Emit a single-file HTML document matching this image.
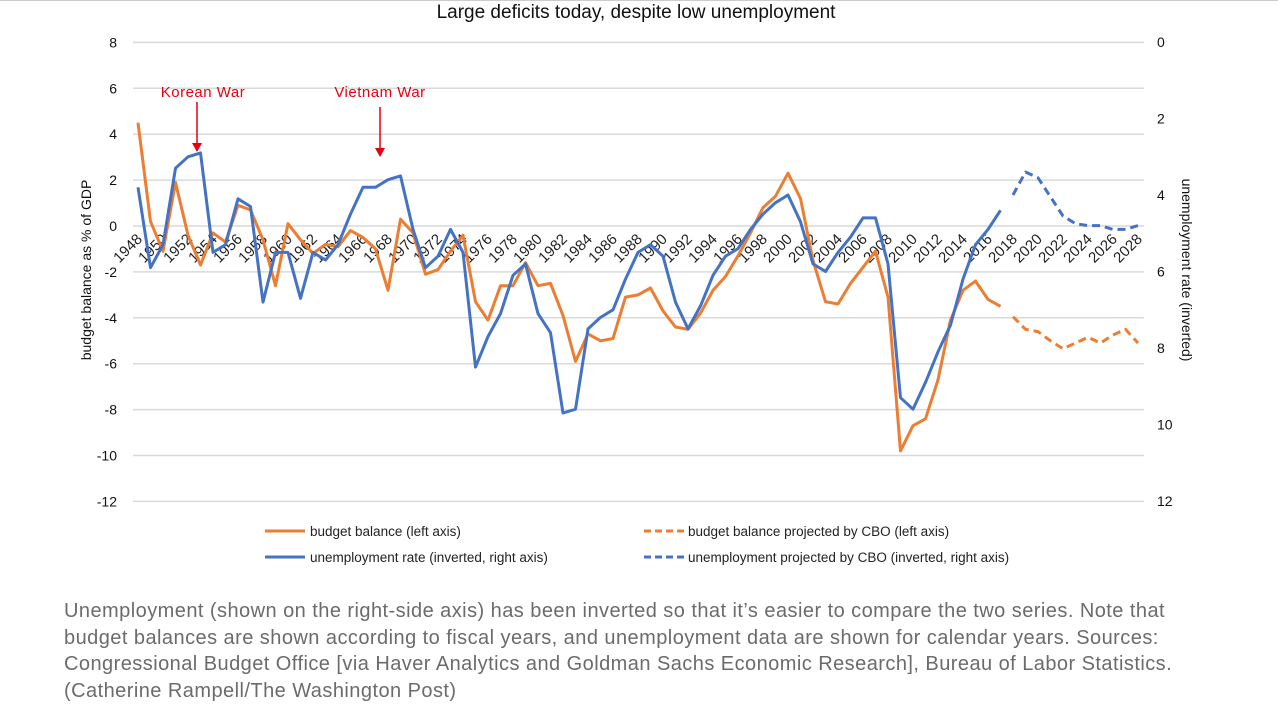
<!DOCTYPE html>
<html><head><meta charset="utf-8"><style>
body{margin:0;background:#fff;width:1278px;height:711px;overflow:hidden;font-family:"Liberation Sans",sans-serif}
#cap{position:absolute;left:64px;top:598px;width:1150px;font-size:20px;letter-spacing:0.45px;line-height:26.5px;color:#6b6b6b}
</style></head><body>
<svg id="chart" width="1278" height="600" style="position:absolute;left:0;top:0" font-family="Liberation Sans, sans-serif">
<line x1="0" y1="0.5" x2="1278" y2="0.5" stroke="#ccc"/>
<text x="636" y="18" text-anchor="middle" font-size="19" fill="#111">Large deficits today, despite low unemployment</text>
<g id="grid"></g><g id="lab"></g><g id="series"></g>
<text transform="translate(91,270) rotate(-90)" text-anchor="middle" font-size="14" fill="#111">budget balance as % of GDP</text>
<text transform="translate(1182,270) rotate(90)" text-anchor="middle" font-size="14" fill="#111">unemployment rate (inverted)</text>
<text x="203" y="97" text-anchor="middle" font-size="15" letter-spacing="0.5" fill="#e8000f">Korean War</text>
<g><line x1="197" y1="102" x2="197" y2="145" stroke="#e8000f" stroke-width="1.5"/><path d="M192 143 L202 143 L197 152 Z" fill="#e8000f"/></g>
<text x="380" y="97" text-anchor="middle" font-size="15" letter-spacing="0.5" fill="#e8000f">Vietnam War</text>
<g><line x1="380" y1="107" x2="380" y2="150" stroke="#e8000f" stroke-width="1.5"/><path d="M375 148 L385 148 L380 157 Z" fill="#e8000f"/></g>
<g font-size="13.5" fill="#222">
<line x1="265" y1="531" x2="305" y2="531" stroke="#ED7D31" stroke-width="3"/>
<text x="310" y="536">budget balance (left axis)</text>
<line x1="644" y1="531" x2="685" y2="531" stroke="#ED7D31" stroke-width="3" stroke-dasharray="7,4"/>
<text x="688" y="536">budget balance projected by CBO (left axis)</text>
<line x1="265" y1="557" x2="305" y2="557" stroke="#4472C4" stroke-width="3"/>
<text x="310" y="562">unemployment rate (inverted, right axis)</text>
<line x1="644" y1="557" x2="685" y2="557" stroke="#4472C4" stroke-width="3" stroke-dasharray="7,4"/>
<text x="688" y="562">unemployment projected by CBO (inverted, right axis)</text>
</g>
</svg>
<div id="cap">Unemployment (shown on the right-side axis) has been inverted so that it’s easier to compare the two series. Note that budget balances are shown according to fiscal years, and unemployment data are shown for calendar years. Sources: Congressional Budget Office [via Haver Analytics and Goldman Sachs Economic Research], Bureau of Labor Statistics. (Catherine Rampell/The Washington Post)</div>
<script>
const startYear = 1948;
const budgetActual = [4.5,0.2,-1.1,1.9,-0.4,-1.7,-0.3,-0.7,0.9,0.7,-0.6,-2.6,0.1,-0.6,-1.2,-0.8,-0.9,-0.2,-0.5,-1.0,-2.8,0.3,-0.3,-2.1,-1.9,-1.1,-0.4,-3.3,-4.1,-2.6,-2.6,-1.6,-2.6,-2.5,-3.9,-5.9,-4.7,-5.0,-4.9,-3.1,-3.0,-2.7,-3.7,-4.4,-4.5,-3.8,-2.8,-2.2,-1.3,-0.3,0.8,1.3,2.3,1.2,-1.5,-3.3,-3.4,-2.5,-1.8,-1.1,-3.1,-9.8,-8.7,-8.4,-6.7,-4.1,-2.8,-2.4,-3.2,-3.5];
const unempActual = [3.8,5.9,5.3,3.3,3.0,2.9,5.5,5.3,4.1,4.3,6.8,5.5,5.5,6.7,5.5,5.7,5.3,4.5,3.8,3.8,3.6,3.5,4.9,5.9,5.6,4.9,5.5,8.5,7.7,7.1,6.1,5.8,7.1,7.6,9.7,9.6,7.5,7.2,7.0,6.2,5.5,5.3,5.6,6.8,7.5,6.9,6.1,5.6,5.4,4.9,4.5,4.2,4.0,4.7,5.8,6.0,5.5,5.1,4.6,4.6,5.8,9.3,9.6,8.9,8.1,7.4,6.2,5.3,4.9,4.4];
const projStart = 2018;
const budgetProj = [-3.95,-4.5,-4.6,-5.0,-5.35,-5.1,-4.85,-5.1,-4.75,-4.5,-5.1];
const unempProj = [4.0,3.4,3.55,4.05,4.55,4.75,4.8,4.8,4.9,4.9,4.8];
const leftTicks = [8,6,4,2,0,-2,-4,-6,-8,-10,-12];
const rightTicks = [0,2,4,6,8,10,12];

const NS='http://www.w3.org/2000/svg';
const x = yr => 138 + (yr - 1948) * 12.5;
const yL = v => 226 - v * 22.95;
const yR = u => 42 + u * 38.25;
function mk(tag, attrs, parent){const e=document.createElementNS(NS,tag);for(const k in attrs)e.setAttribute(k,attrs[k]);parent.appendChild(e);return e;}
const grid=document.getElementById('grid'), lab=document.getElementById('lab'), ser=document.getElementById('series');
leftTicks.forEach(v=>{
  const l=mk('line',{x1:133,x2:1144,y1:yL(v),y2:yL(v),stroke:'#d9d9d9','stroke-width':1.5},grid);
  
  
  const t=mk('text',{x:117,y:yL(v)+5,'text-anchor':'end','font-size':14,fill:'#111'},lab);
  t.textContent=v;
  
  
});
rightTicks.forEach(u=>{
  const t=mk('text',{x:1157,y:yR(u)+5,'font-size':14,fill:'#111'},lab);
  t.textContent=u;
  
  
});
for(let yr=1948; yr<=2028; yr+=2){
  const t=mk('text',{transform:`translate(${x(yr)+5},${240}) rotate(-45)`,'text-anchor':'end','font-size':15,fill:'#222'},lab);
  t.textContent=yr;
  
  
}
function line(vals, y0, fy, color, dash, name){
  const pts=vals.map((v,i)=>x(y0+i).toFixed(1)+','+fy(v).toFixed(1)).join(' ');
  const p=mk('polyline',{points:pts,fill:'none',stroke:color,'stroke-width':3,'stroke-linejoin':'round'},ser);
  if(dash)p.setAttribute('stroke-dasharray',dash);
  
  
}
line(budgetActual,startYear,yL,'#ED7D31',null,'budget-balance-line');
line(budgetProj,projStart,yL,'#ED7D31','8,5','budget-projected-line');
line(unempActual,startYear,yR,'#4472C4',null,'unemployment-line');
line(unempProj,projStart,yR,'#4472C4','8,5','unemployment-projected-line');
</script>
</body></html>
